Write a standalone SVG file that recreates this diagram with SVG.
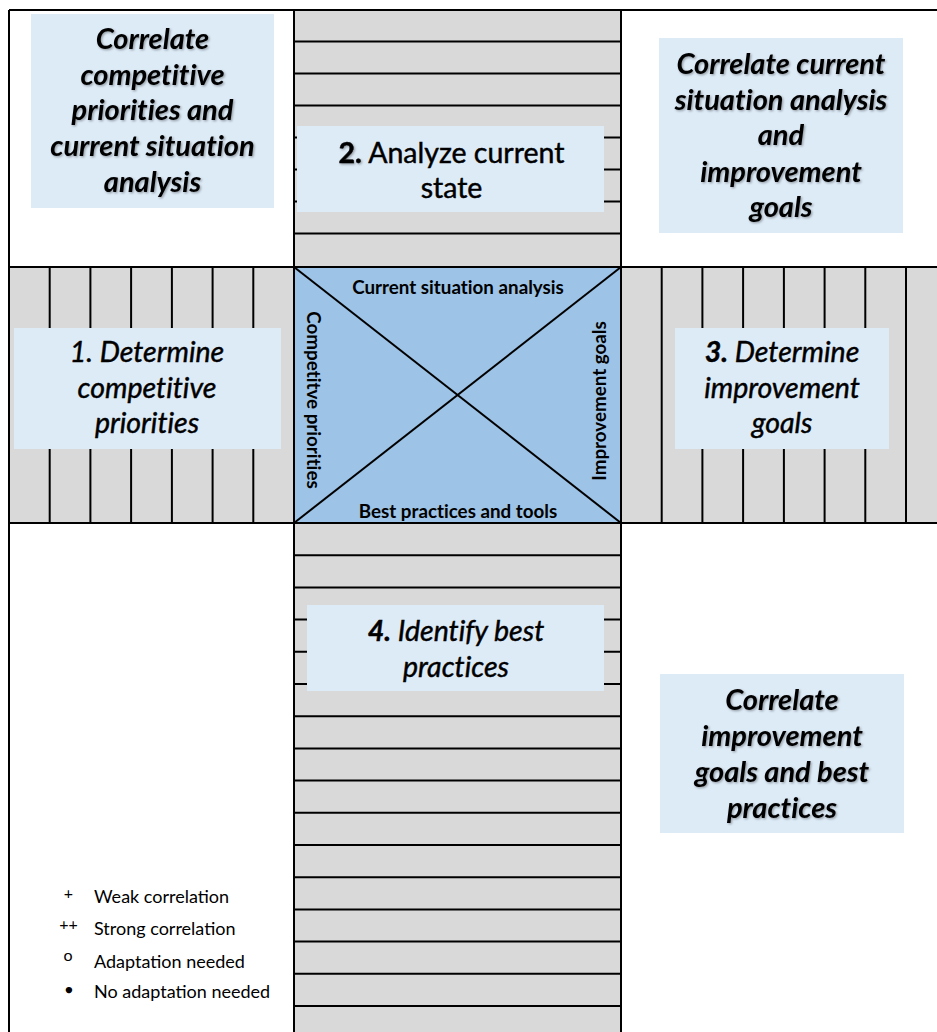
<svg xmlns="http://www.w3.org/2000/svg" width="937" height="1032" viewBox="0 0 937 1032">
  <style>
    .grid { stroke: #000; stroke-width: 2; fill: none; }
    .band { fill: #D9D9D9; }
    .label-box { fill: #DDEBF7; }
    .t { font-family: Lato, "Liberation Sans", sans-serif; fill: #000; text-anchor: middle; font-variant-ligatures: none; font-feature-settings: "liga" 0, "dlig" 0; }
    .corr { font-size: 29px; font-weight: bold; font-style: italic; filter: url(#soft-shadow); }
    .step { font-size: 28.5px; stroke: #000; stroke-width: 0.45px; }
    .axis { font-size: 18.8px; font-weight: bold; }
    .legend { font-family: Lato, "Liberation Sans", sans-serif; font-size: 18px; fill: #000; }
    .sym { font-family: Lato, "Liberation Sans", sans-serif; fill: #000; text-anchor: middle; }
  </style>
  <defs>
    <filter id="soft-shadow" x="-5%" y="-10%" width="115%" height="130%">
      <feDropShadow dx="1.2" dy="1.2" stdDeviation="0.8" flood-color="#000" flood-opacity="0.35"/>
    </filter>
  </defs>

  <rect width="937" height="1032" fill="#fff"/>

  <!-- shaded bands of the cross -->
  <g id="bands">
    <rect class="band" x="294" y="10" width="327" height="257"/>
    <rect class="band" x="294" y="523" width="327" height="509"/>
    <rect class="band" x="9" y="267" width="285" height="256"/>
    <rect class="band" x="621" y="267" width="316" height="256"/>
    <rect x="294" y="267" width="327" height="256" fill="#9DC3E6"/>
  </g>

  <!-- ruling of the bands -->
  <g id="grid" class="grid">
    <path d="M9 10H937M9 267H937M9 523H937M9 10V1032M294 10V1032M621 10V1032"/>
    <path d="M294 41.5H621M294 73.5H621M294 105.5H621M294 137.5H621M294 169.5H621M294 201.5H621M294 233.5H621"/>
    <path d="M294 555.2H621M294 587.4H621M294 619.6H621M294 651.8H621M294 684H621M294 716.2H621M294 748.4H621M294 780.6H621M294 812.8H621M294 845H621M294 877.2H621M294 909.4H621M294 941.6H621M294 973.8H621M294 1006H621"/>
    <path d="M49.7 267V523M90.4 267V523M131.1 267V523M171.9 267V523M212.6 267V523M253.3 267V523"/>
    <path d="M661.7 267V523M702.4 267V523M743.1 267V523M783.9 267V523M824.6 267V523M865.3 267V523M906 267V523"/>
  </g>

  <!-- diagonals of the central matrix -->
  <g id="connectors" class="grid">
    <line x1="294" y1="267" x2="621" y2="523"/>
    <line x1="621" y1="267" x2="294" y2="523"/>
  </g>

  <!-- central matrix labels -->
  <g id="matrix">
    <text class="t axis" x="458" y="293.5">Current situation analysis</text>
    <text class="t axis" x="458" y="517.5">Best practices and tools</text>
    <text class="t axis" transform="translate(306.5 400) rotate(90)">Competitve priorities</text>
    <text class="t axis" transform="translate(606 401) rotate(-90)">Improvement goals</text>
  </g>

  <g id="corr-priorities-situation">
    <rect class="label-box" x="31" y="14" width="243" height="194"/>
    <text class="t corr" x="152.5" y="49">Correlate</text>
    <text class="t corr" x="152.5" y="85">competitive</text>
    <text class="t corr" x="152.5" y="120">priorities and</text>
    <text class="t corr" x="152.5" y="156">current situation</text>
    <text class="t corr" x="152.5" y="192">analysis</text>
  </g>

  <g id="corr-situation-goals">
    <rect class="label-box" x="659" y="38" width="244" height="195"/>
    <text class="t corr" x="781" y="74">Correlate current</text>
    <text class="t corr" x="781" y="110">situation analysis</text>
    <text class="t corr" x="781" y="145">and</text>
    <text class="t corr" x="781" y="182">improvement</text>
    <text class="t corr" x="781" y="217">goals</text>
  </g>

  <g id="corr-goals-practices">
    <rect class="label-box" x="660" y="674" width="244" height="159"/>
    <text class="t corr" x="782" y="710">Correlate</text>
    <text class="t corr" x="782" y="746">improvement</text>
    <text class="t corr" x="782" y="782">goals and best</text>
    <text class="t corr" x="782" y="818">practices</text>
  </g>

  <g id="step-1">
    <rect class="label-box" x="14" y="328" width="267" height="121"/>
    <text class="t step" font-style="italic" x="147" y="362">1. Determine</text>
    <text class="t step" font-style="italic" x="147" y="398">competitive</text>
    <text class="t step" font-style="italic" x="147" y="433">priorities</text>
  </g>

  <g id="step-2">
    <rect class="label-box" x="297" y="126" width="307" height="86"/>
    <text class="t step" x="451.5" y="163"><tspan font-weight="bold" filter="url(#soft-shadow)">2.</tspan> Analyze current</text>
    <text class="t step" x="451.5" y="198">state</text>
  </g>

  <g id="step-3">
    <rect class="label-box" x="675" y="328" width="214" height="121"/>
    <text class="t step" font-style="italic" x="782" y="362"><tspan font-weight="bold">3.</tspan> Determine</text>
    <text class="t step" font-style="italic" x="782" y="398">improvement</text>
    <text class="t step" font-style="italic" x="782" y="433">goals</text>
  </g>

  <g id="step-4">
    <rect class="label-box" x="307" y="605" width="297" height="86"/>
    <text class="t step" font-style="italic" x="456" y="641"><tspan font-weight="bold">4.</tspan> Identify best</text>
    <text class="t step" font-style="italic" x="456" y="677">practices</text>
  </g>

  <g id="legend">
    <text class="sym" font-size="16" x="68.5" y="899">+</text>
    <text class="legend" x="94" y="903">Weak correlation</text>
    <text class="sym" font-size="16" x="68.5" y="930">++</text>
    <text class="legend" x="94" y="935">Strong correlation</text>
    <text class="sym" font-size="16" x="68" y="961">o</text>
    <text class="legend" x="94" y="968">Adaptation needed</text>
    <text class="sym" font-family="DejaVu Sans" font-size="13" x="69" y="994">●</text>
    <text class="legend" x="94" y="998">No adaptation needed</text>
  </g>
</svg>
